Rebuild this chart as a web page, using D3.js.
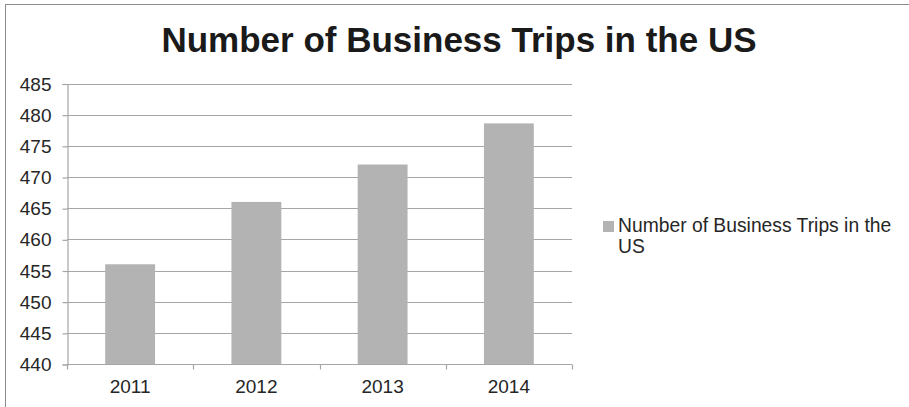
<!DOCTYPE html>
<html>
<head>
<meta charset="utf-8">
<script src="https://cdn.jsdelivr.net/npm/d3@7"></script>
<style>
  html, body { margin: 0; padding: 0; background: #fff; }
  svg { display: block; font-family: "Liberation Sans", Arial, sans-serif; }
</style>
</head>
<body>
<svg id="chart" width="909" height="407"></svg>
<script>
// Chart data
const years = ["2011", "2012", "2013", "2014"];
const trips = [456, 466, 472, 478.6];
const yTicks = [440, 445, 450, 455, 460, 465, 470, 475, 480, 485];
const chartTitle = "Number of Business Trips in the US";
const seriesName = "Number of Business Trips in the US";

const svg = d3.select("#chart");
const W = 909, H = 407;
const plot = { left: 67, right: 572, top: 83.5, bottom: 364 };
const labelSize = 19;

// Outer frame (runs past the right and bottom edges)
svg.append("rect")
  .attr("x", 5.5).attr("y", 4.5)
  .attr("width", W + 10).attr("height", H + 10)
  .attr("fill", "#fff").attr("stroke", "#8c8c8c").attr("stroke-width", 1);

// Title
svg.append("text")
  .attr("x", 459).attr("y", 52)
  .attr("text-anchor", "middle")
  .attr("font-size", 35).attr("font-weight", "bold")
  .attr("fill", "#1a1a1a")
  .text(chartTitle);

const x = d3.scaleBand().domain(years).range([plot.left, plot.right]).padding(0);
const y = d3.scaleLinear().domain([440, 485]).range([plot.bottom, plot.top]);

// Horizontal gridlines
svg.append("g").selectAll("line").data(yTicks.slice(1)).join("line")
  .attr("x1", plot.left).attr("x2", plot.right)
  .attr("y1", d => Math.round(y(d)) + 0.5).attr("y2", d => Math.round(y(d)) + 0.5)
  .attr("stroke", "#a6a6a6").attr("stroke-width", 1.2);

// Bars
const barW = x.bandwidth() * 0.395;
svg.append("g").selectAll("rect").data(years).join("rect")
  .attr("x", d => x(d) + (x.bandwidth() - barW) / 2)
  .attr("width", barW)
  .attr("y", (d, i) => y(trips[i]))
  .attr("height", (d, i) => y(440) - y(trips[i]))
  .attr("fill", "#b3b3b3");

// Y axis
const yAxis = d3.axisLeft(y).tickValues(yTicks).tickSize(5).tickPadding(11).tickFormat(d3.format("d"));
const gy = svg.append("g").attr("transform", `translate(${plot.left + 0.5},0.5)`).call(yAxis);
gy.select(".domain").attr("stroke", "#a6a6a6").attr("stroke-width", 1.2);
gy.selectAll(".tick line").attr("stroke", "#a6a6a6").attr("stroke-width", 1.2);
gy.selectAll(".tick text").attr("font-size", labelSize).attr("fill", "#262626")
  .attr("font-family", "Liberation Sans, Arial, sans-serif");

// X axis: baseline with ticks at category boundaries
const xBase = Math.round(y(440)) + 0.5;
svg.append("line")
  .attr("x1", plot.left).attr("x2", plot.right)
  .attr("y1", xBase).attr("y2", xBase)
  .attr("stroke", "#a6a6a6").attr("stroke-width", 1.2);
const bounds = years.map(d => x(d)).concat([plot.right]);
svg.append("g").selectAll("line").data(bounds).join("line")
  .attr("x1", d => Math.round(d) + 0.5).attr("x2", d => Math.round(d) + 0.5)
  .attr("y1", xBase).attr("y2", xBase + 5)
  .attr("stroke", "#a6a6a6").attr("stroke-width", 1.2);
svg.append("g").selectAll("text").data(years).join("text")
  .attr("x", d => x(d) + x.bandwidth() / 2)
  .attr("y", 393)
  .attr("text-anchor", "middle")
  .attr("font-size", labelSize).attr("fill", "#262626")
  .text(d => d);

// Legend
const lg = svg.append("g");
lg.append("rect").attr("x", 603).attr("y", 221).attr("width", 11).attr("height", 11).attr("fill", "#b3b3b3");
const words = seriesName.split(" ");
lg.append("text").attr("x", 618).attr("y", 232).attr("font-size", 19.3).attr("fill", "#262626")
  .text(words.slice(0, -1).join(" "));
lg.append("text").attr("x", 618).attr("y", 253).attr("font-size", 19.3).attr("fill", "#262626")
  .text(words[words.length - 1]);
</script>
</body>
</html>
